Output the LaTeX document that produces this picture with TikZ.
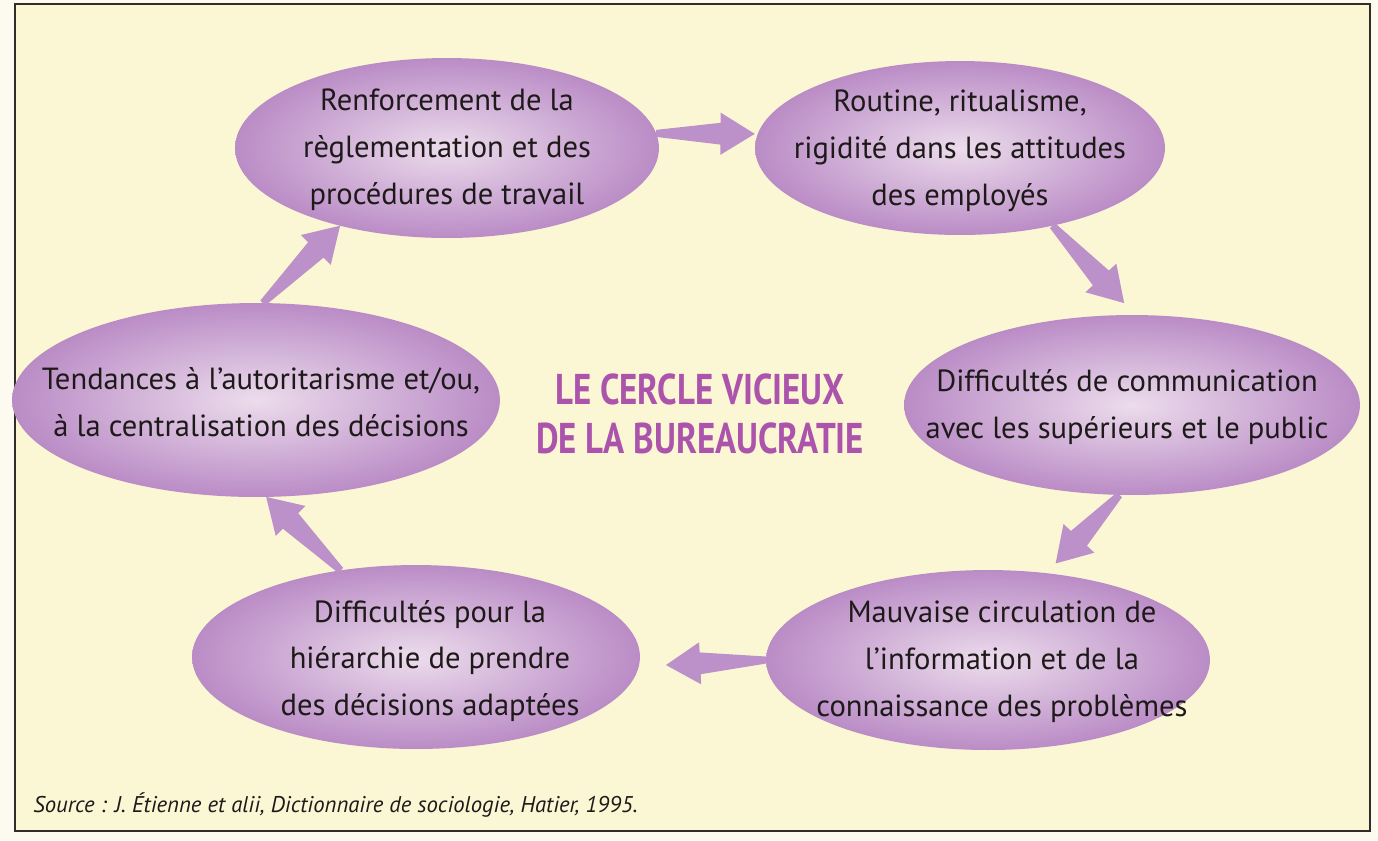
\documentclass[tikz,border=0pt]{standalone}
\usepackage{fontspec}
\setmainfont{PT Sans}
\usepackage{graphicx}
\usetikzlibrary{shapes.geometric,calc}
\definecolor{paper}{RGB}{251,247,212}
\definecolor{outside}{RGB}{253,251,240}
\definecolor{frameline}{RGB}{50,45,40}
\definecolor{bubbleout}{RGB}{186,140,198}
\definecolor{bubblein}{RGB}{236,220,236}
\definecolor{arrowcol}{RGB}{188,144,200}
\definecolor{titlecol}{RGB}{172,84,172}
\definecolor{inkcol}{RGB}{30,26,26}
\tikzset{
  bubble/.style={ellipse, inner sep=0pt, outer sep=0pt, draw=none,
    inner color=bubblein, outer color=bubbleout},
  txt/.style={align=center, inner sep=0pt, text=inkcol,
    font=\fontsize{17.4}{26.7}\selectfont},
  arrowfill/.style={fill=arrowcol, draw=none},
}
\newcommand{\fatarrow}[2]{%
  \path (#1) coordinate (fa-s) (#2) coordinate (fa-e);
  \coordinate (fa-b) at ($(fa-e)!19.5pt!(fa-s)$);
  \fill[arrowfill] ($(fa-s)!2pt!90:(fa-e)$) -- ($(fa-b)!6.2pt!90:(fa-e)$)
    -- ($(fa-b)!12pt!90:(fa-e)$) -- (fa-e) -- ($(fa-b)!12pt!-90:(fa-e)$)
    -- ($(fa-b)!6.2pt!-90:(fa-e)$) -- ($(fa-s)!2pt!-90:(fa-e)$) -- cycle;
}
\begin{document}
\begin{tikzpicture}[x=0.02cm, y=-0.02cm]
  \useasboundingbox (0,0) rectangle (1378,840);
  \fill[outside] (0,0) rectangle (1378,840);
  \filldraw[fill=paper, draw=frameline, line width=0.9pt] (15,4) rectangle (1370,831);

  % ellipses
  \node[bubble, minimum width=8.48cm, minimum height=3.6cm] (n1) at (447,148) {};
  \node[bubble, minimum width=8.2cm, minimum height=3.48cm] (n2) at (960,148) {};
  \node[bubble, minimum width=9.12cm, minimum height=3.6cm] (n3) at (1132,405) {};
  \node[bubble, minimum width=8.88cm, minimum height=3.6cm] (n4) at (988,660) {};
  \node[bubble, minimum width=8.96cm, minimum height=3.68cm] (n5) at (416,657) {};
  \node[bubble, minimum width=9.76cm, minimum height=3.88cm] (n6) at (256,400) {};

  % texts
  \node[txt] (t1) at (447,150) {Renforcement de la\\règlementation et des\\procédures de travail};
  \node[txt] (t2) at (960,151) {Routine, ritualisme,\\rigidité dans les attitudes\\des employés};
  \node[txt] (t3) at (1127,407) {Difficultés de communication\\avec les supérieurs et le public};
  \node[txt] (t4) at (1002,662) {Mauvaise circulation de\\l’information et de la\\connaissance des problèmes};
  \node[txt] (t5) at (430,661) {Difficultés pour la\\hiérarchie de prendre\\des décisions adaptées};
  \node[txt] (t6) at (261,402) {Tendances à l’autoritarisme et/ou,\\à la centralisation des décisions};

  % title
  \node[align=center, inner sep=0pt, text=titlecol,
        font=\fontsize{24.5}{27.6}\selectfont\bfseries] (title) at (700,414)
        {\scalebox{0.81}[1]{LE CERCLE VICIEUX}\\\scalebox{0.81}[1]{DE LA BUREAUCRATIE}};

  % source
  \node[anchor=west, inner sep=0pt, text=inkcol] (src) at (33,805)
        {\resizebox{344pt}{!}{\itshape Source : J. Étienne et alii, Dictionnaire de sociologie, Hatier, 1995.}};

  % arrows
  \fatarrow{n1.4}{$(n2.176)+(-3,0)$}
  \fatarrow{n2.-40}{$(n3.95)+(0,-12)$}
  \fatarrow{n3.-98}{$(n4.55)+(7,-10)$}
  \fatarrow{n4.180}{$(n5.east)+(26,8)$}
  \fatarrow{n5.131}{n6.-84}
  \fatarrow{n6.86}{n1.216}
\end{tikzpicture}
\end{document}
